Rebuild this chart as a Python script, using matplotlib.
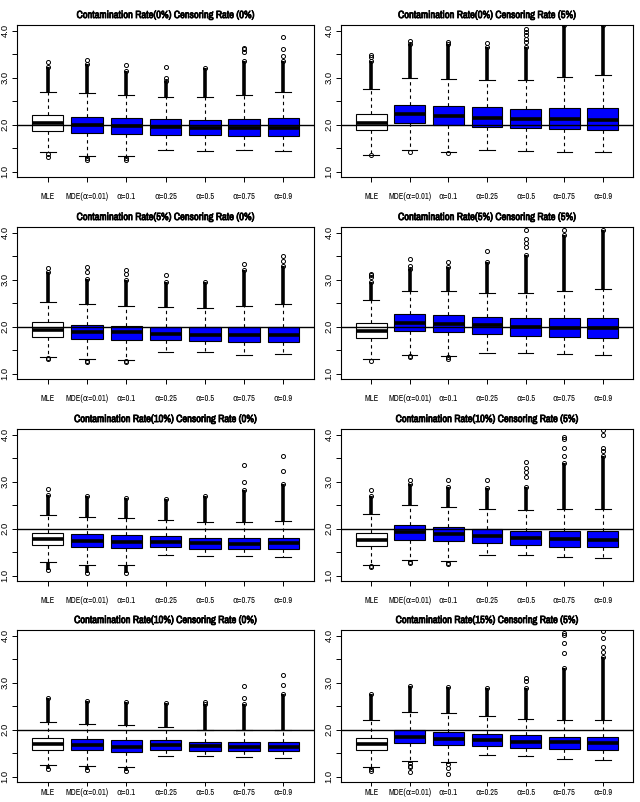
import matplotlib
matplotlib.use('Agg')
import matplotlib.pyplot as plt
from matplotlib import font_manager as fm
from matplotlib import patheffects as pe

# ---------------- data ----------------
TITLES = [
    "Contamination Rate(0%) Censoring Rate (0%)",
    "Contamination Rate(0%) Censoring Rate (5%)",
    "Contamination Rate(5%) Censoring Rate (0%)",
    "Contamination Rate(5%) Censoring Rate (5%)",
    "Contamination Rate(10%) Censoring Rate (0%)",
    "Contamination Rate(10%) Censoring Rate (5%)",
    "Contamination Rate(10%) Censoring Rate (0%)",
    "Contamination Rate(15%) Censoring Rate (5%)",
]
LABELS = ["MLE", "MDE(\u03b1=0.01)", "\u03b1=0.1", "\u03b1=0.25", "\u03b1=0.5", "\u03b1=0.75", "\u03b1=0.9"]
TRUE_VALUE = 2.0

Q1 = [
    [1.87, 1.82, 1.81, 1.79, 1.78, 1.77, 1.77],
    [1.88, 2.03, 2.00, 1.96, 1.93, 1.91, 1.89],
    [1.79, 1.74, 1.72, 1.71, 1.69, 1.67, 1.68],
    [1.77, 1.91, 1.89, 1.85, 1.81, 1.78, 1.76],
    [1.66, 1.61, 1.60, 1.62, 1.57, 1.57, 1.56],
    [1.63, 1.76, 1.73, 1.69, 1.66, 1.62, 1.61],
    [1.58, 1.56, 1.53, 1.56, 1.55, 1.55, 1.55],
    [1.57, 1.72, 1.68, 1.65, 1.62, 1.60, 1.57],
]
MEDIAN = [
    [2.03, 1.99, 1.97, 1.96, 1.94, 1.94, 1.94],
    [2.04, 2.22, 2.19, 2.15, 2.12, 2.12, 2.10],
    [1.94, 1.89, 1.88, 1.85, 1.83, 1.83, 1.83],
    [1.92, 2.08, 2.06, 2.03, 2.00, 1.98, 1.98],
    [1.79, 1.74, 1.72, 1.72, 1.69, 1.68, 1.69],
    [1.77, 1.93, 1.88, 1.84, 1.81, 1.78, 1.77],
    [1.70, 1.67, 1.64, 1.68, 1.65, 1.64, 1.64],
    [1.70, 1.84, 1.81, 1.78, 1.75, 1.73, 1.72],
]
Q3 = [
    [2.21, 2.17, 2.14, 2.12, 2.10, 2.12, 2.14],
    [2.22, 2.42, 2.40, 2.37, 2.34, 2.36, 2.36],
    [2.10, 2.04, 2.02, 1.99, 1.99, 1.99, 1.99],
    [2.09, 2.27, 2.24, 2.21, 2.18, 2.18, 2.18],
    [1.91, 1.88, 1.86, 1.85, 1.81, 1.81, 1.81],
    [1.91, 2.07, 2.04, 1.99, 1.96, 1.95, 1.95],
    [1.82, 1.80, 1.78, 1.78, 1.75, 1.75, 1.75],
    [1.82, 1.99, 1.95, 1.92, 1.89, 1.85, 1.84],
]
WHISK_LO = [
    [1.43, 1.34, 1.33, 1.46, 1.44, 1.46, 1.44],
    [1.36, 1.46, 1.43, 1.46, 1.44, 1.43, 1.42],
    [1.35, 1.31, 1.30, 1.46, 1.46, 1.41, 1.43],
    [1.32, 1.41, 1.38, 1.45, 1.45, 1.43, 1.41],
    [1.29, 1.24, 1.22, 1.44, 1.43, 1.42, 1.41],
    [1.23, 1.34, 1.31, 1.44, 1.44, 1.40, 1.38],
    [1.25, 1.23, 1.20, 1.44, 1.44, 1.42, 1.41],
    [1.21, 1.33, 1.31, 1.47, 1.45, 1.38, 1.36],
]
WHISK_HI = [
    [2.69, 2.67, 2.64, 2.59, 2.58, 2.64, 2.70],
    [2.76, 2.99, 2.97, 2.96, 2.95, 3.02, 3.05],
    [2.52, 2.48, 2.45, 2.42, 2.40, 2.45, 2.49],
    [2.56, 2.77, 2.75, 2.72, 2.72, 2.77, 2.81],
    [2.29, 2.25, 2.22, 2.18, 2.14, 2.14, 2.16],
    [2.31, 2.50, 2.46, 2.43, 2.39, 2.41, 2.43],
    [2.16, 2.12, 2.10, 2.05, 2.00, 2.00, 2.00],
    [2.20, 2.38, 2.35, 2.29, 2.23, 2.21, 2.21],
]
# top of the densely packed upper outliers
DENSE_HI = [
    [3.22, 3.30, 3.15, 2.93, 3.20, 3.36, 3.36],
    [3.36, 3.72, 3.72, 3.65, 3.65, 4.12, 4.12],
    [3.16, 3.02, 2.99, 2.95, 2.95, 3.20, 3.30],
    [2.95, 3.23, 3.27, 3.38, 3.52, 3.94, 4.05],
    [2.71, 2.69, 2.66, 2.63, 2.69, 2.82, 2.96],
    [2.69, 2.96, 2.89, 2.86, 2.89, 3.40, 3.55],
    [2.68, 2.61, 2.58, 2.56, 2.55, 2.55, 2.75],
    [2.76, 2.94, 2.91, 2.88, 2.88, 3.31, 3.54],
]
# bottom of the densely packed lower outliers (None = no dense group)
DENSE_LO = [
    [None, 1.30, 1.29, None, None, None, None],
    [None, None, None, None, None, None, None],
    [1.33, 1.28, 1.27, None, None, None, None],
    [None, 1.37, 1.35, None, None, None, None],
    [1.12, 1.07, 1.05, None, None, None, None],
    [1.20, 1.30, 1.27, None, None, None, None],
    [1.16, 1.15, 1.12, None, None, None, None],
    [1.17, 1.30, 1.28, None, None, None, None],
]
OUT_HI = [
    [[3.33], [3.38], [3.27], [3.0, 3.22], [], [3.55, 3.60, 3.64], [3.47, 3.61, 3.86]],
    [[3.45, 3.48], [3.77], [3.75], [3.74], [3.75, 3.82, 3.90, 3.97, 4.03], [], []],
    [[3.25], [3.16, 3.27], [3.13, 3.20], [3.09], [], [3.34], [3.40, 3.50]],
    [[3.05, 3.10, 3.13], [3.30, 3.43], [3.38], [3.61], [3.70, 3.77, 3.86, 4.05], [4.05], []],
    [[2.84], [], [], [], [], [3.00, 3.36], [3.23, 3.54]],
    [[2.83], [3.03], [3.03], [3.04], [3.10, 3.20, 3.30, 3.42], [3.55, 3.72, 3.90, 3.95], [3.65, 3.72, 4.00, 4.10]],
    [[], [], [], [], [2.60], [2.68, 2.93], [2.95, 3.17]],
    [[], [], [], [], [3.03, 3.11], [3.64, 3.84, 4.01, 4.05], [3.65, 3.75, 3.96, 4.10]],
]
OUT_LO = [
    [[1.38, 1.31], [1.26], [1.26], [], [], [], []],
    [[1.35], [1.42], [1.41], [], [], [], []],
    [[1.32], [1.26], [1.26], [], [], [], []],
    [[1.27], [1.35], [1.31], [], [], [], []],
    [[], [], [], [], [], [], []],
    [[1.18], [1.28], [1.25], [], [], [], []],
    [[], [], [], [], [], [], []],
    [[1.13], [1.24, 1.20, 1.11], [1.19, 1.06], [], [], [], []],
]
BOX_COLORS = ["white", "#0000FF", "#0000FF", "#0000FF", "#0000FF", "#0000FF", "#0000FF"]

# ---------------- fonts ----------------
entries = fm.fontManager.ttflist
narrow_names = sorted({f.name for f in entries if ('Narrow' in f.name or 'Condensed' in f.name)})
pref = [n for n in narrow_names if 'Liberation' in n] or narrow_names
NARROW = pref[0] if pref else 'Liberation Sans'
FAM = [NARROW, 'DejaVu Sans']


def _w(wt):
    try:
        return int(wt)
    except Exception:
        return {'bold': 700, 'semibold': 600, 'demibold': 600, 'heavy': 800, 'black': 900}.get(str(wt), 400)


HAS_BOLD_NARROW = any(f.name == NARROW and _w(f.weight) >= 600 for f in entries)
TITLE_EFFECTS = [] if HAS_BOLD_NARROW else [pe.withStroke(linewidth=0.55, foreground='black')]
REG = 'Liberation Sans'

W, H = 640, 802
fig = plt.figure(figsize=(W / 100, H / 100), dpi=100)
renderer = fig.canvas.get_renderer()


def fit_size(text, target_px, weight='normal', start=8.0):
    t = fig.text(0, 0, text, fontsize=start, fontweight=weight, family=FAM)
    wpx = t.get_window_extent(renderer=renderer).width
    t.remove()
    return start * target_px / wpx


TITLE_SIZE = min(8.5, fit_size(TITLES[0], 178, 'bold'))
TICK_SIZE = min(7.0, fit_size(LABELS[1], 43))

ROW_TOPS = [25, 227, 429, 630]
AX_H = 152
COLS = [(17, 297), (341, 292)]
MS = 2.9

for i in range(8):
    r, c = divmod(i, 2)
    x0, w = COLS[c]
    top = ROW_TOPS[r]
    ax = fig.add_axes([x0 / W, 1 - (top + AX_H) / H, w / W, AX_H / H])
    stats = []
    for k in range(7):
        stats.append(dict(med=MEDIAN[i][k], q1=Q1[i][k], q3=Q3[i][k],
                          whislo=WHISK_LO[i][k], whishi=WHISK_HI[i][k],
                          fliers=OUT_HI[i][k] + OUT_LO[i][k]))
    pos = list(range(1, 8))
    for k in range(7):
        ax.vlines(pos[k], WHISK_HI[i][k], DENSE_HI[i][k], color='black', lw=2.6, zorder=2)
        ax.plot([pos[k]], [DENSE_HI[i][k]], 'o', mfc='none', mec='black', ms=MS, mew=0.7, zorder=3)
        if DENSE_LO[i][k] is not None:
            ax.vlines(pos[k], DENSE_LO[i][k], WHISK_LO[i][k], color='black', lw=2.6, zorder=2)
            ax.plot([pos[k]], [DENSE_LO[i][k]], 'o', mfc='none', mec='black', ms=MS, mew=0.7, zorder=3)
    bp = ax.bxp(stats, positions=pos, widths=0.8, capwidths=0.4, patch_artist=True,
                showfliers=True,
                boxprops=dict(edgecolor='black', linewidth=0.8),
                medianprops=dict(color='black', linewidth=2.6, solid_capstyle='butt'),
                whiskerprops=dict(color='black', linewidth=0.8, linestyle=(0, (3, 3))),
                capprops=dict(color='black', linewidth=0.8),
                flierprops=dict(marker='o', markerfacecolor='none', markeredgecolor='black',
                                markersize=MS, markeredgewidth=0.7, linestyle='none'))
    for patch, col in zip(bp['boxes'], BOX_COLORS):
        patch.set_facecolor(col)
    ax.axhline(TRUE_VALUE, color='black', lw=1.0, zorder=4)
    ax.set_xlim(0.22, 7.78)
    ax.set_ylim(0.89, 4.12)
    ax.set_xticks(pos)
    ax.set_xticklabels(LABELS, fontsize=TICK_SIZE, family=FAM)
    yt = [1.0, 1.5, 2.0, 2.5, 3.0, 3.5, 4.0]
    ax.set_yticks(yt)
    ax.set_yticklabels(["1.0", "", "2.0", "", "3.0", "", "4.0"], fontfamily=REG, fontsize=6.8)
    for t in ax.get_yticklabels():
        t.set_rotation(90)
        t.set_va('center')
    ax.tick_params(axis='x', length=3.5 if r < 3 else 3.0, width=0.7, pad=7 if r < 3 else 1.5)
    ax.tick_params(axis='y', length=3.5, width=0.7, pad=2)
    for s in ax.spines.values():
        s.set_linewidth(0.8)
        s.set_color('black')
    ttl = ax.set_title(TITLES[i], fontweight='bold', fontsize=TITLE_SIZE, pad=5, family=FAM)
    ttl.set_path_effects(TITLE_EFFECTS)

fig.savefig('out.png', dpi=100)
